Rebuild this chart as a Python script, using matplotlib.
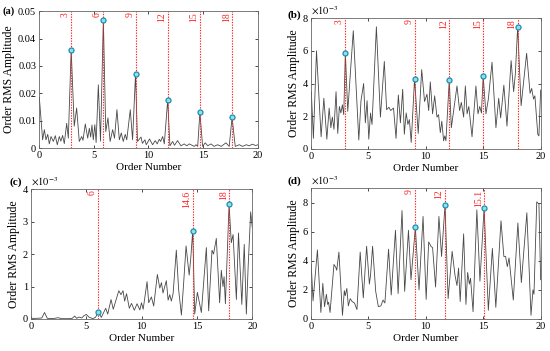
import matplotlib
matplotlib.use("Agg")
import matplotlib.pyplot as plt
import numpy as np
from matplotlib.ticker import FuncFormatter

plt.rcParams["font.family"] = ["Liberation Serif", "DejaVu Serif"]
plt.rcParams["mathtext.fontset"] = "stix"

# (a) order spectrum, amplitude
a_order = [0, 0.03, 0.33, 0.49, 0.64, 0.8, 0.94, 1.1, 1.31, 1.49, 1.67, 1.86, 2.0, 2.16,
           2.31, 2.53, 2.68, 2.94, 3.22, 3.44, 3.68, 3.9, 4.02, 4.23, 4.45, 4.6, 4.72, 4.84,
           4.96, 5.1, 5.22, 5.42, 5.62, 5.88, 6.1, 6.3, 6.5, 6.73, 6.9, 7.12, 7.34, 7.52, 7.7,
           7.88, 8.02, 8.34, 8.55, 8.82, 9.0, 9.32, 9.45, 9.68, 9.8, 10.1, 10.38, 10.62, 10.8,
           10.99, 11.12, 11.3, 11.45, 11.76, 11.96, 12.21, 12.38, 12.66, 12.97, 13.27, 13.5,
           13.73, 14.19, 14.35, 14.5, 14.7, 14.95, 15.19, 15.42, 15.71, 16.0, 16.32, 16.65,
           17.08, 17.38, 17.64, 17.93, 18.3, 18.6, 18.95, 19.2, 19.5, 19.8, 20.0]
a_amp = [0.0175, 0.0185, 0.003, 0.0067, 0.003, 0.005, 0.0015, 0.0042, 0.0024, 0.0045, 0.0012,
         0.0042, 0.0025, 0.0046, 0.0016, 0.009, 0.0036, 0.0359, 0.008, 0.0146, 0.0024, 0.0042,
         0.0028, 0.0088, 0.0036, 0.0072, 0.004, 0.0084, 0.003, 0.0085, 0.002, 0.0231, 0.0025,
         0.0468, 0.006, 0.011, 0.0024, 0.0067, 0.0036, 0.014, 0.003, 0.0055, 0.0024, 0.005,
         0.003, 0.014, 0.003, 0.0271, 0.0024, 0.004, 0.0017, 0.003, 0.0012, 0.0033, 0.0012,
         0.0027, 0.0015, 0.0032, 0.0024, 0.0042, 0.0015, 0.0176, 0.0008, 0.0024, 0.001, 0.0027,
         0.0008, 0.0015, 0.0008, 0.0015, 0.0006, 0.0012, 0.0006, 0.013, 0.0006, 0.0019, 0.0008,
         0.0015, 0.0006, 0.0012, 0.0006, 0.0019, 0.0006, 0.0112, 0.0006, 0.0012, 0.0006,
         0.0012, 0.0008, 0.0014, 0.0009, 0.0012]
a_marks = [2.94, 5.88, 8.82, 11.76, 14.7, 17.64]
a_labels = ["3", "6", "9", "12", "15", "18"]

# (b) amplitude in units of 1e-3
b_order = [0, 0.05, 0.23, 0.5, 0.9, 1.14, 1.4, 1.6, 1.75, 1.88, 2.02, 2.2, 2.35, 2.49, 2.62,
           2.75, 2.87, 3.01, 3.22, 3.7, 4.18, 4.37, 4.6, 4.75, 4.9, 5.05, 5.2, 5.33, 5.71, 6.06,
           6.4, 6.6, 6.8, 6.95, 7.2, 7.42, 7.62, 7.8, 8.0, 8.14, 8.3, 8.45, 8.58, 8.74, 9.03,
           9.35, 9.65, 9.9, 10.11, 10.26, 10.4, 10.6, 10.78, 10.98, 11.12, 11.27, 11.4, 11.56,
           11.66, 11.76, 12.05, 12.23, 12.72, 12.95, 13.1, 13.3, 13.45, 13.6, 13.75, 14.03,
           14.37, 14.55, 14.7, 14.85, 15.0, 15.24, 15.45, 15.77, 16.11, 16.35, 16.52, 16.8,
           17.07, 17.43, 17.65, 17.8, 18.0, 18.3, 18.78, 19.08, 19.22, 19.38, 19.5, 19.75,
           19.85, 20.0]
b_amp = [3.3, 3.5, 0.65, 6.0, 0.75, 3.1, 0.6, 2.5, 1.3, 1.95, 1.2, 3.5, 0.95, 2.6, 2.2, 2.7,
         2.1, 5.86, 2.3, 7.23, 0.55, 2.95, 4.0, 1.6, 2.95, 0.6, 2.2, 1.5, 7.47, 1.95, 5.35, 2.4,
         2.55, 2.35, 2.5, 0.65, 3.3, 1.6, 3.65, 0.9, 2.2, 1.5, 1.8, 0.4, 4.28, 0.95, 4.85, 2.9,
         3.35, 2.35, 4.1, 2.15, 3.25, 1.95, 2.1, 1.0, 1.7, 0.5, 0.8, 0.5, 4.21, 1.3, 3.85, 2.35,
         2.85, 1.95, 3.85, 2.15, 2.6, 0.75, 3.85, 2.15, 2.6, 2.2, 4.45, 2.15, 3.05, 5.3, 1.3,
         3.1, 1.9, 3.9, 1.4, 5.4, 3.5, 4.6, 7.47, 2.65, 5.85, 3.4, 3.7, 3.05, 3.25, 0.9, 0.8,
         3.6]
b_marks = [3.01, 9.03, 12.05, 15.0, 18.0]
b_labels = ["3", "9", "12", "15", "18"]

# (c) amplitude in units of 1e-3
c_order = [0, 0.5, 1.0, 1.25, 1.5, 2.0, 2.46, 2.8, 3.5, 3.75, 3.97, 4.15, 4.35, 4.6, 4.8, 5.02,
           5.25, 5.6, 5.85, 6.1, 6.37, 6.77, 6.95, 7.25, 7.45, 7.95, 8.15, 8.33, 8.48, 8.65,
           8.9, 9.1, 9.35, 9.6, 9.85, 10.0, 10.15, 10.5, 10.65, 10.89, 11.1, 11.43, 11.65, 11.8,
           11.94, 12.24, 12.4, 12.55, 12.69, 12.85, 13.14, 13.35, 13.6, 13.8, 14.02, 14.3,
           14.45, 14.62, 14.8, 15.04, 15.4, 15.85, 16.06, 16.36, 16.5, 16.75, 17.05, 17.2,
           17.35, 17.45, 17.57, 17.9, 18.1, 18.26, 18.56, 18.75, 19.05, 19.27, 19.46, 19.62,
           19.85, 20.0]
c_amp = [0.02, 0.02, 0.03, 0.2, 0.02, 0.01, 0.04, 0.01, 0.01, 0.02, 0.09, 0.02, 0.06, 0.03,
         0.1, 0.14, 0.06, 0.01, 0.05, 0.22, 0.05, 0.33, 0.15, 0.6, 0.3, 0.87, 0.75, 0.87, 0.55,
         0.78, 0.33, 0.48, 0.27, 0.47, 0.28, 0.5, 0.3, 1.15, 0.5, 0.68, 0.4, 1.37, 0.95, 1.12,
         0.8, 1.18, 0.58, 0.75, 0.55, 0.78, 2.12, 0.9, 0.12, 1.1, 2.25, 1.35, 1.9, 2.72, 0.15,
         0.82, 0.2, 2.2, 0.25, 2.12, 2.0, 2.48, 0.5, 1.5, 1.0, 1.3, 0.47, 3.53, 2.35, 2.6, 0.6,
         2.65, 0.45, 2.3, 0.15, 1.6, 3.3, 2.8]
c_marks = [6.1, 14.62, 17.9]
c_labels = ["6", "14.6", "18"]

# (d) amplitude in units of 1e-3
d_order = [0, 0.04, 0.2, 0.58, 0.88, 1.05, 1.2, 1.36, 1.47, 1.55, 1.68, 2.02, 2.18, 2.26,
           2.45, 2.76, 2.92, 3.0, 3.14, 3.27, 3.43, 3.6, 3.8, 4.02, 4.3, 4.57, 4.86, 5.1, 5.2,
           5.38, 5.65, 5.88, 6.1, 6.29, 6.45, 6.77, 7.0, 7.37, 7.6, 7.94, 8.17, 8.5, 8.72, 9.1,
           9.42, 9.77, 10.04, 10.26, 10.45, 10.6, 10.86, 11.15, 11.38, 11.68, 11.95, 12.3,
           12.55, 12.72, 12.86, 13.0, 13.3, 13.5, 13.65, 13.8, 13.9, 14.12, 14.45, 14.72, 15.08,
           15.45, 15.8, 16.1, 16.55, 16.8, 16.95, 17.1, 17.25, 17.62, 18.02, 18.32, 18.8,
           19.16, 19.33, 19.42, 19.66, 19.85, 20.0]
d_amp = [3.0, 3.75, 1.25, 4.75, 0.45, 2.45, 0.85, 1.7, 1.0, 1.15, 0.45, 3.75, 3.55, 3.35,
         4.6, 0.25, 1.95, 1.6, 2.1, 0.9, 1.4, 1.2, 1.1, 0.65, 4.6, 1.45, 5.0, 2.4, 3.0, 5.0,
         1.9, 0.85, 0.9, 1.3, 1.1, 4.8, 1.65, 6.1, 1.75, 7.45, 1.9, 6.1, 2.7, 6.29, 2.0, 7.05,
         1.35, 5.3, 5.0, 4.9, 2.2, 7.05, 4.3, 7.82, 1.4, 4.65, 3.0, 2.3, 3.5, 1.2, 5.85, 1.0,
         3.2, 2.4, 2.8, 0.5, 7.5, 2.6, 7.65, 0.6, 4.85, 0.8, 6.75, 4.3, 4.3, 3.6, 4.2, 1.3,
         6.6, 2.5, 7.3, 0.25, 2.0, 1.7, 8.05, 7.9, 2.7]
d_marks = [9.1, 11.68, 15.08]
d_labels = ["9", "12", "15.1"]


def draw_panel(ax, order, amp, marks, labels, ytop, yticks, scaled):
    ax.plot(order, amp, color="#484848", lw=0.6)
    for m, lab in zip(marks, labels):
        ax.axvline(m, color="#ff2020", lw=0.8, ls=(0, (1.2, 1.2)))
        ax.text(m - 0.12, ytop * 0.99, lab, rotation=90, ha="right", va="top",
                color="#ff2020", fontsize=7)
    peaks = np.interp(marks, order, amp)
    ax.plot(marks, peaks, "o", ms=3.6, mfc="#8fe0ec", mec="#1b8fae", mew=0.9)
    ax.set_xlim(0, 20)
    ax.set_ylim(0, ytop)
    ax.set_xticks([0, 5, 10, 15, 20])
    ax.set_yticks(yticks)
    ax.yaxis.set_major_formatter(FuncFormatter(lambda v, _: "0" if v == 0 else f"{v:g}"))
    ax.tick_params(direction="in", length=2.5, width=0.5, top=True, right=True,
                   labelsize=7.5, pad=2)
    for s in ax.spines.values():
        s.set_color("#666666")
        s.set_linewidth(0.6)
    ax.set_xlabel("Order Number", fontsize=8, labelpad=2)
    ax.set_ylabel("Order RMS Amplitude", fontsize=8.5, labelpad=2)
    if scaled:
        ax.text(0.0, 1.01, r"$\times10^{-3}$", transform=ax.transAxes, ha="left",
                va="bottom", fontsize=7.5)


fig = plt.figure(figsize=(5.5, 3.51), dpi=100)
ax_a = fig.add_axes([0.0709, 0.5783, 0.398, 0.390])
ax_b = fig.add_axes([0.565, 0.5755, 0.418, 0.373])
ax_c = fig.add_axes([0.0558, 0.0912, 0.403, 0.370])
ax_d = fig.add_axes([0.565, 0.0912, 0.418, 0.373])

draw_panel(ax_a, a_order, a_amp, a_marks, a_labels, 0.05,
           [0, 0.01, 0.02, 0.03, 0.04, 0.05], False)
draw_panel(ax_b, b_order, b_amp, b_marks, b_labels, 8, [0, 2, 4, 6, 8], True)
draw_panel(ax_c, c_order, c_amp, c_marks, c_labels, 4, [0, 1, 2, 3, 4], True)
draw_panel(ax_d, d_order, d_amp, d_marks, d_labels, 9, [0, 2, 4, 6, 8], True)

fig.text(0.004, 0.967, "(a)", fontsize=7.5, fontweight="bold", va="center")
fig.text(0.522, 0.956, "(b)", fontsize=8, fontweight="bold", va="center")
fig.text(0.018, 0.481, "(c)", fontsize=8, fontweight="bold", va="center")
fig.text(0.522, 0.484, "(d)", fontsize=8, fontweight="bold", va="center")

fig.savefig("out.png", dpi=100)
